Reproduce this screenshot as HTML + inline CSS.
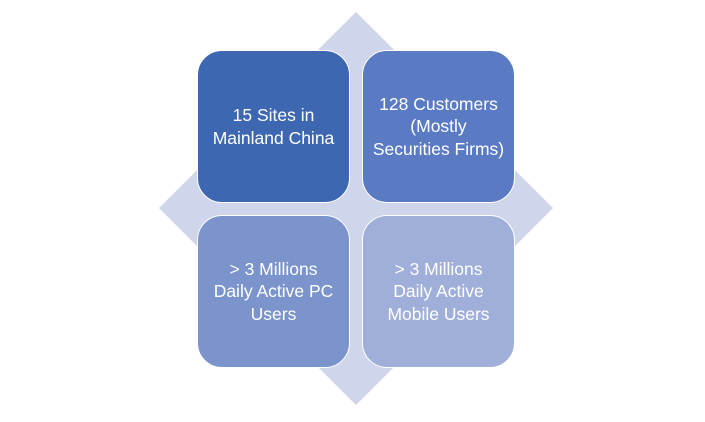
<!DOCTYPE html>
<html><head><style>
html,body{margin:0;padding:0;background:#fff;}
body{width:705px;height:422px;position:relative;overflow:hidden;font-family:"Liberation Sans",sans-serif;}
.b{position:absolute;width:153px;height:153px;border-radius:25px;box-sizing:border-box;border:1.5px solid #fff;color:#fff;font-size:17.5px;line-height:22.5px;display:flex;align-items:center;justify-content:center;text-align:center;}
</style></head><body>
<svg width="705" height="422" style="position:absolute;left:0;top:0">
<polygon points="356,12 553,208 356,405 159,208" fill="#cfd5ea"/>
</svg>
<div class="b" style="left:197px;top:50px;background:#3d67b1">15 Sites in<br>Mainland China</div>
<div class="b" style="left:362px;top:50px;background:#5a7bc3">128 Customers<br>(Mostly<br>Securities Firms)</div>
<div class="b" style="left:197px;top:215px;background:#7b94cb">&gt; 3 Millions<br>Daily Active PC<br>Users</div>
<div class="b" style="left:362px;top:215px;background:#a0afd9">&gt; 3 Millions<br>Daily Active<br>Mobile Users</div>
</body></html>
